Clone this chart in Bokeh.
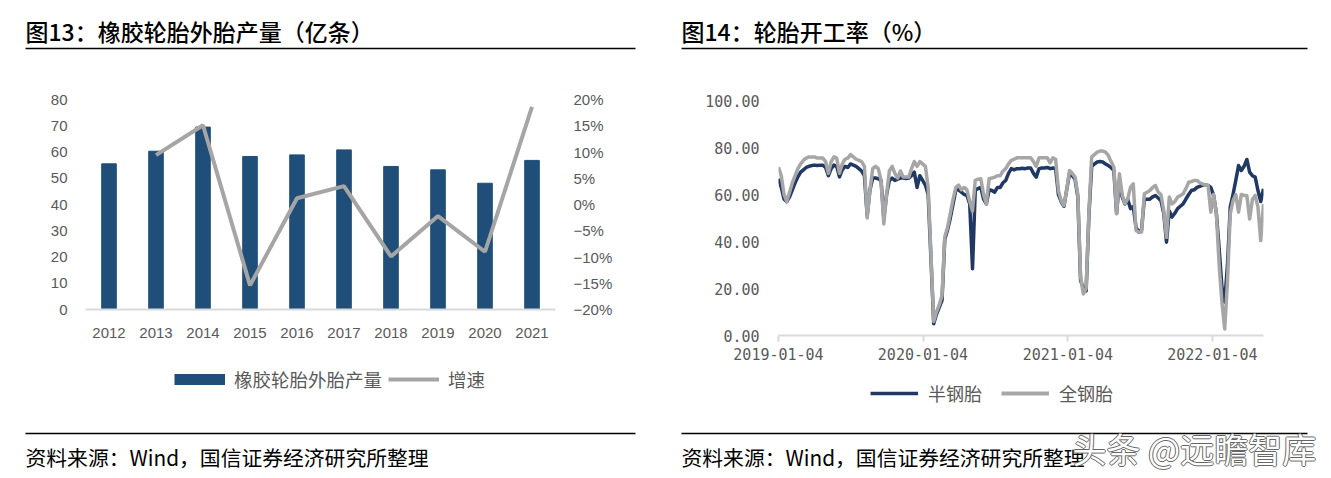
from bokeh.plotting import figure
from bokeh.models import (Range1d, FactorRange, LinearAxis, FixedTicker, Legend,
                          NumeralTickFormatter, DatetimeTickFormatter)
from bokeh.layouts import row, column
from bokeh.embed import file_html
from bokeh.resources import INLINE
from bokeh.core.properties import value
import pandas as pd

# ---------------- data ----------------
years = ["2012", "2013", "2014", "2015", "2016", "2017", "2018", "2019", "2020", "2021"]
tyre_output = [55.5, 60.3, 69.5, 58.3, 58.9, 60.8, 54.5, 53.2, 48.1, 56.8]
growth_years = ["2013", "2014", "2015", "2016", "2017", "2018", "2019", "2020", "2021"]
growth_pct = [9.4, 15.1, -15.4, 1.2, 3.5, -9.9, -2.2, -9.0, 18.6]
left_ticks = [0, 10, 20, 30, 40, 50, 60, 70, 80]
pct_ticks = [-20, -15, -10, -5, 0, 5, 10, 15, 20]
pct_labels = ["\u221220%", "\u221215%", "\u221210%", "\u22125%", "0%", "5%", "10%", "15%", "20%"]

week_start = "2019-01-04"
semi_steel = [
    66.7, 63, 58, 57, 59, 62, 65, 67.5, 69.5, 70.5,
    71.5, 72, 72.3, 72.5, 72.3, 72.5, 72.5, 71.5, 68, 71,
    72.5, 72, 67.5, 70.5, 72, 71.5, 73, 72.5, 72, 71,
    70, 68, 51, 62, 67, 67, 66.7, 66, 50, 60,
    66, 67, 66, 66.5, 67, 67, 66.8, 67, 68, 69.5,
    63, 68, 66, 64, 60, 33, 5, 9, 12, 15,
    41, 45, 50, 56, 62, 62, 61, 60, 59.6, 56,
    28.4, 62, 62.5, 63, 58, 56, 62, 61.7, 61, 63,
    63, 65, 66, 69, 71, 70.5, 71, 71, 71.2, 71,
    71.3, 71.3, 69, 67.4, 71, 71.3, 71.3, 71.5, 71, 71.3,
    71, 60, 57, 55, 62, 69, 68, 66.5, 59, 23.4,
    20, 19, 51, 72, 73, 73.8, 74, 73.8, 73, 72.3,
    71.5, 70.2, 52, 66, 59, 56, 58, 54, 55, 46,
    44, 45, 58, 58, 58, 59, 59.6, 58.5, 57.4, 52,
    39.7, 53, 50.4, 52, 54, 55, 56, 58, 60, 61.7,
    62, 63, 63.5, 64, 64, 63.8, 63, 59.6, 52, 37,
    20.6, 14.2, 30, 54.6, 60, 66, 72.3, 70.2, 72, 74.9,
    69.5, 68, 67.4, 61.7, 57, 62.4]
all_steel = [
    71.6, 68, 60, 57, 61, 65, 68, 71, 73, 74.5,
    75.5, 76, 76, 76, 75.5, 75.5, 75.5, 74, 69, 74,
    76, 75.5, 69, 73, 75, 75.5, 77, 76, 75, 74.5,
    74, 72, 50, 62, 71, 72, 71, 66, 47.5, 60,
    70, 72, 69, 67, 70, 67.4, 67.4, 67.4, 71, 74,
    72, 74, 73, 72, 63, 35, 6, 10, 13, 17,
    42, 46, 52, 58, 63, 64, 62, 63, 62, 57,
    53, 66, 66.5, 66.7, 60, 56, 66.7, 67, 67.4, 68,
    68, 70, 71, 73, 74.5, 75, 75.6, 75.6, 75.6, 75.6,
    75.6, 75.6, 74, 72, 75.6, 75.6, 75.6, 75.6, 73.5, 75.6,
    75, 61.7, 57.4, 55.3, 62, 70.2, 69, 67.4, 60, 25,
    17.7, 20, 52, 75.9, 77, 78, 78.5, 78.5, 78, 76.6,
    74, 71.6, 51.8, 68.8, 60, 56, 58, 63, 64.5, 44.7,
    44, 44, 60.3, 61, 61.7, 63, 63.8, 61, 60, 53.2,
    41.8, 58.9, 56, 57, 58.9, 59.5, 60.3, 62.5, 65.2, 65.5,
    66, 66, 65, 64.5, 64, 63.8, 52.5, 60, 51.8, 30,
    14, 2.8, 23, 51.8, 57.4, 60, 52.5, 60, 59.6, 59.6,
    49.6, 58, 59.6, 54.6, 40.4, 56]
date_ticks = ["2019-01-04", "2020-01-04", "2021-01-04", "2022-01-04"]
rate_ticks = [0, 20, 40, 60, 80, 100]

# ---------------- style ----------------
BAR_BLUE = "#1f4e79"
NAVY = "#1f3864"
GREY = "#a5a5a5"
AXIS_TXT = "#595959"
CJK = "Noto Sans CJK SC"
CJK_TITLE = "'Noto Sans CJK SC Medium', 'Noto Sans CJK SC'"
NAN = float("nan")


def blank(w, h):
    f = figure(width=w, height=h, x_range=Range1d(0, w), y_range=Range1d(0, h),
               toolbar_location=None, output_backend="svg", min_border=0,
               x_axis_location=None, y_axis_location=None)
    f.frame_align = False
    f.grid.visible = False
    f.outline_line_color = None
    f.background_fill_color = "white"
    f.border_fill_color = "white"
    return f


def put_text(f, x, y, s, size, color="#000000", font=CJK, align="left", style="normal"):
    f.text(x=[x], y=[y], text=[s], text_font=value(font), text_font_size=size,
           text_color=color, text_baseline="middle", text_align=align, text_font_style=style)


def hrule(f, x0, x1, y, color="#000000", width=1.5):
    f.segment(x0=[x0], y0=[y], x1=[x1], y1=[y], line_color=color, line_width=width)


LW, RW = 660, 663

# ---------------- left panel ----------------
tL = blank(LW, 55)
put_text(tL, 25, 25, "图13：橡胶轮胎外胎产量（亿条）", "23px", font=CJK_TITLE)
hrule(tL, 25, 635, 7)

pL = figure(width=LW, height=295, x_range=FactorRange(*years), y_range=Range1d(0, 80),
            toolbar_location=None, output_backend="svg",
            min_border_left=85, min_border_right=105, min_border_top=44, min_border_bottom=41)
pL.frame_align = False
pL.x_range.range_padding = 0
pL.extra_y_ranges = {"pct": Range1d(-20, 20)}
pL.vbar(x=years, top=tyre_output, width=0.31, color=BAR_BLUE)
pL.line(x=growth_years, y=growth_pct, y_range_name="pct", line_color=GREY, line_width=4)
pL.grid.visible = False
pL.outline_line_color = None
pL.xaxis.axis_line_color = "#d9d9d9"
pL.xaxis.axis_line_width = 2
pL.xaxis.major_tick_line_color = None
pL.xaxis.major_label_standoff = 12
pL.yaxis.axis_line_color = None
pL.yaxis.major_tick_line_color = None
pL.yaxis.minor_tick_line_color = None
pL.yaxis.ticker = FixedTicker(ticks=left_ticks)
pL.yaxis.major_label_standoff = 12
ax_r = LinearAxis(y_range_name="pct", ticker=FixedTicker(ticks=pct_ticks),
                  major_label_overrides={t: l for t, l in zip(pct_ticks, pct_labels)})
ax_r.axis_line_color = None
ax_r.major_tick_line_color = None
ax_r.minor_tick_line_color = None
ax_r.major_label_standoff = 12
pL.add_layout(ax_r, "right")
for ax in pL.axis:
    ax.major_label_text_font = "Liberation Sans"
    ax.major_label_text_font_size = "15px"
    ax.major_label_text_color = AXIS_TXT

fL = blank(LW, 120)
l1 = fL.line(x=[NAN], y=[NAN], line_color=BAR_BLUE, line_width=11, line_cap="butt")
l2 = fL.line(x=[NAN], y=[NAN], line_color=GREY, line_width=4)
legL = Legend(items=[("橡胶轮胎外胎产量", [l1]), ("增速", [l2])], orientation="horizontal",
              location=(174, 78), glyph_width=51, glyph_height=12, label_standoff=9, spacing=6,
              padding=0, margin=0, border_line_color=None, background_fill_alpha=0,
              label_text_font=CJK, label_text_font_size="18.5px", label_text_color=AXIS_TXT)
fL.add_layout(legL)
hrule(fL, 25, 635, 37)
put_text(fL, 25, 14, "资料来源：Wind，国信证券经济研究所整理", "20.8px")

# ---------------- right panel ----------------
tR = blank(RW, 55)
put_text(tR, 21, 25, "图14：轮胎开工率（%）", "23px", font=CJK_TITLE)
hrule(tR, 21, 647, 7)

dates = pd.date_range(week_start, periods=len(semi_steel), freq="7D")
pR = figure(width=RW, height=315, x_axis_type="datetime",
            x_range=Range1d(dates[0], dates[-1]), y_range=Range1d(0, 100),
            toolbar_location=None, output_backend="svg",
            min_border_left=118, min_border_right=60, min_border_top=45, min_border_bottom=35)
pR.frame_align = False
pR.line(x=dates, y=semi_steel, line_color=NAVY, line_width=3.5, line_join="round")
pR.line(x=dates, y=all_steel, line_color="#a6a6a6", line_width=3.5, line_join="round")
pR.grid.visible = False
pR.outline_line_color = None
pR.xaxis.ticker = FixedTicker(ticks=[pd.Timestamp(d).value / 1e6 for d in date_ticks])
pR.xaxis.formatter = DatetimeTickFormatter(days="%Y-%m-%d", months="%Y-%m-%d", years="%Y-%m-%d")
pR.xaxis.axis_line_color = "#d9d9d9"
pR.xaxis.axis_line_width = 2
pR.xaxis.major_tick_line_color = "#d9d9d9"
pR.xaxis.major_tick_line_width = 2
pR.xaxis.major_tick_out = 6
pR.xaxis.major_tick_in = 0
pR.xaxis.minor_tick_line_color = None
pR.xaxis.major_label_standoff = 6
pR.yaxis.ticker = FixedTicker(ticks=rate_ticks)
pR.yaxis.formatter = NumeralTickFormatter(format="0.00")
pR.yaxis.axis_line_color = None
pR.yaxis.major_tick_line_color = None
pR.yaxis.minor_tick_line_color = None
pR.yaxis.major_label_standoff = 13
for ax in pR.axis:
    ax.major_label_text_font = "DejaVu Sans Mono"
    ax.major_label_text_font_size = "15px"
    ax.major_label_text_color = AXIS_TXT

FH = 106
fR = blank(RW, FH)
off = FH - 100
m1 = fR.line(x=[NAN], y=[NAN], line_color=NAVY, line_width=3.5)
m2 = fR.line(x=[NAN], y=[NAN], line_color="#a6a6a6", line_width=4)
legR = Legend(items=[("半钢胎", [m1]), ("全钢胎", [m2])], orientation="horizontal",
              location=(210, 64 + off), glyph_width=48, glyph_height=12, label_standoff=10, spacing=19,
              padding=0, margin=0, border_line_color=None, background_fill_alpha=0,
              label_text_font=CJK, label_text_font_size="18px", label_text_color=AXIS_TXT)
fR.add_layout(legR)
hrule(fR, 21, 647, 37 + off)
put_text(fR, 21, 14 + off, "资料来源：Wind，国信证券经济研究所整理", "20.8px")
# watermark
wm = "头条 @远瞻智库"
for dx, dy in [(-1, 0), (1, 0), (0, -1), (0, 1)]:
    put_text(fR, 412 + dx, 22 + off + dy, wm, "34px", color="#666666")
put_text(fR, 412, 22 + off, wm, "34px", color="#ffffff")

layout = row(column(tL, pL, fL), column(tR, pR, fR))
open("out.html", "w").write(file_html(layout, INLINE))
